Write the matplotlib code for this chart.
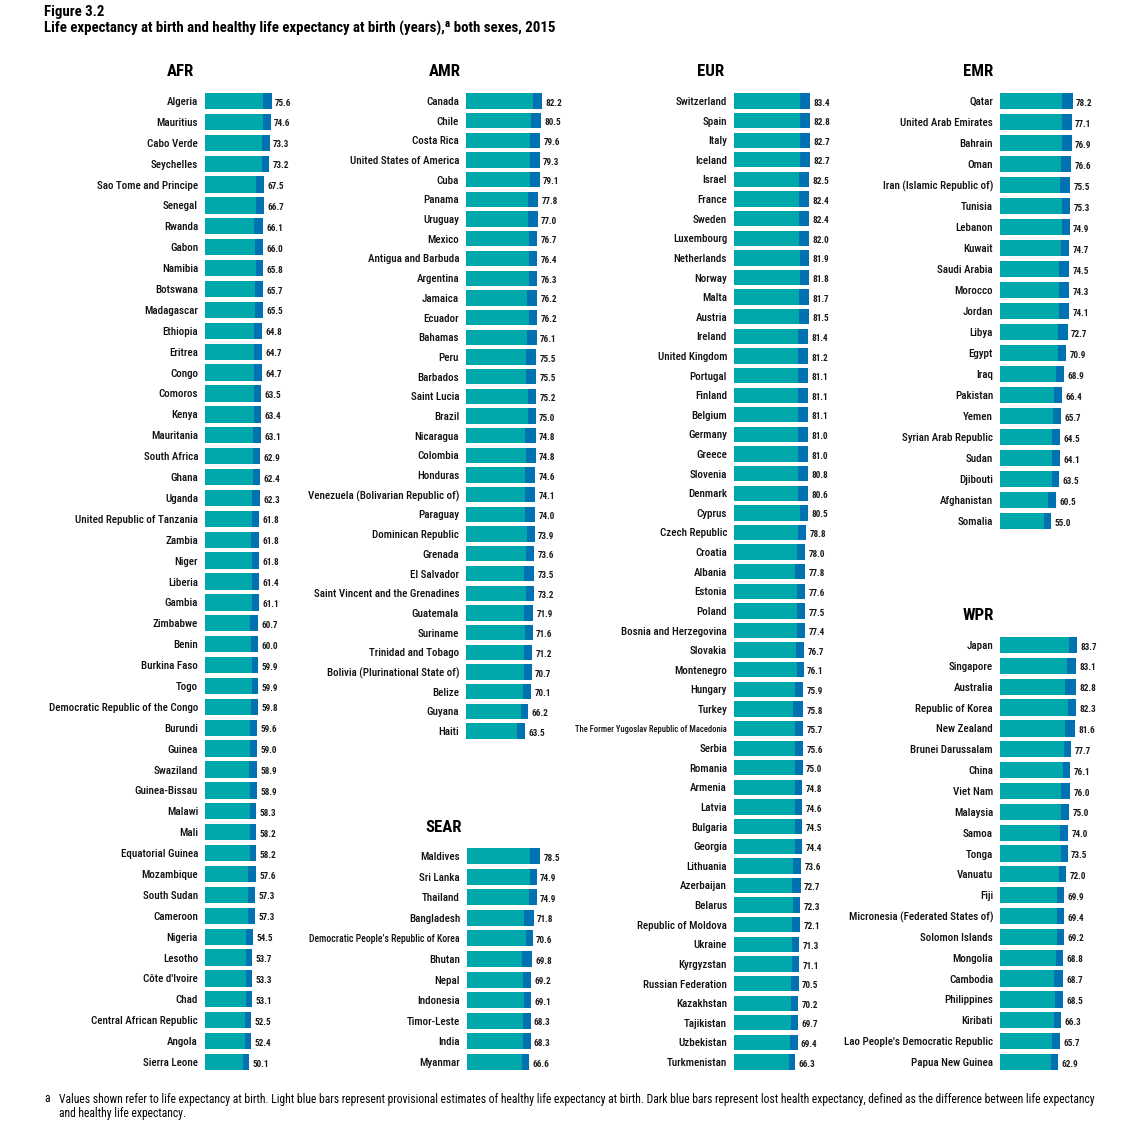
import matplotlib
matplotlib.use("Agg")
import matplotlib.pyplot as plt
from matplotlib import font_manager as fm

TEAL = "#00A8AB"
DARK = "#0072B2"

afr_countries = ["Algeria", "Mauritius", "Cabo Verde", "Seychelles", "Sao Tome and Principe", "Senegal",
                 "Rwanda", "Gabon", "Namibia", "Botswana", "Madagascar", "Ethiopia", "Eritrea", "Congo",
                 "Comoros", "Kenya", "Mauritania", "South Africa", "Ghana", "Uganda",
                 "United Republic of Tanzania", "Zambia", "Niger", "Liberia", "Gambia", "Zimbabwe", "Benin",
                 "Burkina Faso", "Togo", "Democratic Republic of the Congo", "Burundi", "Guinea", "Swaziland",
                 "Guinea-Bissau", "Malawi", "Mali", "Equatorial Guinea", "Mozambique", "South Sudan",
                 "Cameroon", "Nigeria", "Lesotho", "Côte d'Ivoire", "Chad", "Central African Republic",
                 "Angola", "Sierra Leone"]
afr_le = [75.6, 74.6, 73.3, 73.2, 67.5, 66.7, 66.1, 66.0, 65.8, 65.7, 65.5, 64.8, 64.7, 64.7, 63.5, 63.4,
          63.1, 62.9, 62.4, 62.3, 61.8, 61.8, 61.8, 61.4, 61.1, 60.7, 60.0, 59.9, 59.9, 59.8, 59.6, 59.0,
          58.9, 58.9, 58.3, 58.2, 58.2, 57.6, 57.3, 57.3, 54.5, 53.7, 53.3, 53.1, 52.5, 52.4, 50.1]
afr_hale = [66.2, 66.3, 64.6, 65.3, 58.4, 57.6, 55.8, 56.9, 57.9, 56.6, 56.4, 55.7, 55.6, 55.6, 55.6, 55.5,
            54.0, 55.0, 54.5, 53.2, 53.9, 52.7, 53.9, 53.5, 53.2, 51.6, 52.1, 53.1, 53.1, 51.9, 51.7, 51.1,
            49.8, 51.0, 51.5, 51.4, 51.4, 48.5, 49.4, 49.4, 46.6, 46.9, 46.5, 46.3, 45.7, 45.6, 43.3]

amr_countries = ["Canada", "Chile", "Costa Rica", "United States of America", "Cuba", "Panama", "Uruguay",
                 "Mexico", "Antigua and Barbuda", "Argentina", "Jamaica", "Ecuador", "Bahamas", "Peru",
                 "Barbados", "Saint Lucia", "Brazil", "Nicaragua", "Colombia", "Honduras",
                 "Venezuela (Bolivarian Republic of)", "Paraguay", "Dominican Republic", "Grenada",
                 "El Salvador", "Saint Vincent and the Grenadines", "Guatemala", "Suriname",
                 "Trinidad and Tobago", "Bolivia (Plurinational State of)", "Belize", "Guyana", "Haiti"]
amr_le = [82.2, 80.5, 79.6, 79.3, 79.1, 77.8, 77.0, 76.7, 76.4, 76.3, 76.2, 76.2, 76.1, 75.5, 75.5, 75.2,
          75.0, 74.8, 74.8, 74.6, 74.1, 74.0, 73.9, 73.6, 73.5, 73.2, 71.9, 71.6, 71.2, 70.7, 70.1, 66.2, 63.5]
amr_hale = [71.6, 69.7, 68.5, 68.5, 68.3, 67.0, 66.2, 68.1, 67.8, 67.7, 65.4, 67.6, 65.3, 64.7, 64.7, 66.6,
            66.4, 63.0, 64.0, 63.8, 63.3, 63.2, 65.3, 65.0, 62.7, 64.6, 62.2, 63.0, 62.6, 62.1, 61.5, 58.7, 54.9]

eur_countries = ["Switzerland", "Spain", "Italy", "Iceland", "Israel", "France", "Sweden", "Luxembourg",
                 "Netherlands", "Norway", "Malta", "Austria", "Ireland", "United Kingdom", "Portugal",
                 "Finland", "Belgium", "Germany", "Greece", "Slovenia", "Denmark", "Cyprus", "Czech Republic",
                 "Croatia", "Albania", "Estonia", "Poland", "Bosnia and Herzegovina", "Slovakia", "Montenegro",
                 "Hungary", "Turkey", "The Former Yugoslav Republic of Macedonia", "Serbia", "Romania",
                 "Armenia", "Latvia", "Bulgaria", "Georgia", "Lithuania", "Azerbaijan", "Belarus",
                 "Republic of Moldova", "Ukraine", "Kyrgyzstan", "Russian Federation", "Kazakhstan",
                 "Tajikistan", "Uzbekistan", "Turkmenistan"]
eur_le = [83.4, 82.8, 82.7, 82.7, 82.5, 82.4, 82.4, 82.0, 81.9, 81.8, 81.7, 81.5, 81.4, 81.2, 81.1, 81.1,
          81.1, 81.0, 81.0, 80.8, 80.6, 80.5, 78.8, 78.0, 77.8, 77.6, 77.5, 77.4, 76.7, 76.1, 75.9, 75.8,
          75.7, 75.6, 75.0, 74.8, 74.6, 74.5, 74.4, 73.6, 72.7, 72.3, 72.1, 71.3, 71.1, 70.5, 70.2, 69.7,
          69.4, 66.3]
eur_hale = [72.4, 71.8, 71.7, 71.7, 71.5, 71.4, 71.4, 71.0, 72.5, 72.3, 70.7, 70.5, 70.4, 70.2, 70.1, 70.1,
            70.1, 70.0, 70.0, 69.8, 69.6, 71.7, 70.0, 69.2, 66.8, 68.8, 68.7, 68.6, 67.9, 68.4, 67.1, 64.8,
            66.9, 66.8, 66.2, 67.1, 66.9, 66.8, 66.7, 64.8, 63.9, 64.6, 63.3, 63.6, 63.4, 62.8, 62.5, 62.0,
            61.7, 59.7]

emr_countries = ["Qatar", "United Arab Emirates", "Bahrain", "Oman", "Iran (Islamic Republic of)", "Tunisia",
                 "Lebanon", "Kuwait", "Saudi Arabia", "Morocco", "Jordan", "Libya", "Egypt", "Iraq",
                 "Pakistan", "Yemen", "Syrian Arab Republic", "Sudan", "Djibouti", "Afghanistan", "Somalia"]
emr_le = [78.2, 77.1, 76.9, 76.6, 75.5, 75.3, 74.9, 74.7, 74.5, 74.3, 74.1, 72.7, 70.9, 68.9, 66.4, 65.7,
          64.5, 64.1, 63.5, 60.5, 55.0]
emr_hale = [66.6, 66.4, 66.2, 65.9, 64.8, 66.7, 66.3, 66.1, 63.8, 63.6, 63.4, 62.0, 62.3, 60.3, 57.8, 57.1,
            55.9, 55.5, 56.0, 51.9, 47.5]

sear_countries = ["Maldives", "Sri Lanka", "Thailand", "Bangladesh", "Democratic People’s Republic of Korea",
                  "Bhutan", "Nepal", "Indonesia", "Timor-Leste", "India", "Myanmar"]
sear_le = [78.5, 74.9, 74.9, 71.8, 70.6, 69.8, 69.2, 69.1, 68.3, 68.3, 66.6]
sear_hale = [67.8, 67.4, 66.3, 61.1, 63.1, 59.1, 60.6, 61.6, 59.7, 59.7, 59.1]

wpr_countries = ["Japan", "Singapore", "Australia", "Republic of Korea", "New Zealand", "Brunei Darussalam",
                 "China", "Viet Nam", "Malaysia", "Samoa", "Tonga", "Vanuatu", "Fiji",
                 "Micronesia (Federated States of)", "Solomon Islands", "Mongolia", "Cambodia", "Philippines",
                 "Kiribati", "Lao People's Democratic Republic", "Papua New Guinea"]
wpr_le = [83.7, 83.1, 82.8, 82.3, 81.6, 77.7, 76.1, 76.0, 75.0, 74.0, 73.5, 72.0, 69.9, 69.4, 69.2, 68.8,
          68.7, 68.5, 66.3, 65.7, 62.9]
wpr_hale = [75.0, 72.5, 71.0, 73.4, 71.0, 70.1, 68.5, 65.8, 66.3, 65.3, 65.9, 64.4, 62.3, 61.8, 61.6, 61.2,
            58.5, 59.8, 58.7, 57.0, 55.3]

# pick a narrow / condensed face if one is installed
fam, stretch = "DejaVu Sans", "normal"
prefer = ["Liberation Sans Narrow", "Roboto Condensed", "Open Sans Condensed", "Noto Sans",
          "Open Sans", "Roboto", "DejaVu Sans", "Liberation Sans", "Lato", "Inter"]
found = {}
for f in fm.fontManager.ttflist:
    nm = f.name.lower()
    if "condensed" in str(f.stretch) or "narrow" in nm or "condensed" in nm:
        found.setdefault(f.name, f.stretch)
for p in prefer:
    if p in found:
        fam, stretch = p, found[p]
        break
else:
    if found:
        fam, stretch = sorted(found.items())[0]

W, H = 1139, 1146
fig = plt.figure(figsize=(W / 100, H / 100), dpi=100)
renderer = fig.canvas.get_renderer()


def fit_size(text, target_px, weight="normal", base=10):
    t = fig.text(0, 0, text, family=fam, fontstretch=stretch, fontweight=weight, fontsize=base)
    w = t.get_window_extent(renderer).width
    t.remove()
    return base * target_px / w


label_fs = fit_size("United Republic of Tanzania", 122, weight="medium")
value_fs = 6.6
title_fs = fit_size("AFR", 27, weight="bold")
head_fs = fit_size("Life expectancy at birth and healthy life expectancy at birth (years),a both sexes, 2015",
                   514, weight="bold")
note_text = ("Values shown refer to life expectancy at birth. Light blue bars represent provisional estimates of "
             "healthy life expectancy at birth. Dark blue bars represent lost health expectancy, defined as the "
             "difference between life expectancy")
note_fs = fit_size(note_text, 1036)


def panel(name, countries, le, hale, x0, y_first, y_last, scale, title_x, title_y):
    n = len(countries)
    step = (y_last - y_first) / (n - 1)
    top = y_first - step / 2
    bottom = y_last + step / 2
    width = 110
    ax = fig.add_axes([x0 / W, 1 - bottom / H, width / W, (bottom - top) / H])
    ys = list(range(n))
    lost = [a - b for a, b in zip(le, hale)]
    ax.barh(ys, hale, height=0.78, color=TEAL, linewidth=0)
    ax.barh(ys, lost, left=hale, height=0.78, color=DARK, linewidth=0)
    for i, v in enumerate(le):
        ax.annotate(f"{v:.1f}", xy=(v, i), xytext=(2.5, -1.5), textcoords="offset points",
                    ha="left", va="center", fontsize=value_fs, fontweight="bold", color="#1a1a1a",
                    family=fam, fontstretch=stretch)
    ax.set_xlim(0, width / scale)
    ax.set_ylim(n - 0.5, -0.5)
    ax.set_yticks(ys)
    ax.set_yticklabels(countries, fontsize=label_fs, color="#111111", family=fam, fontstretch=stretch,
                       fontweight="medium")
    # squeeze the longest names so they stay clear of the neighbouring panel
    for lab in ax.get_yticklabels():
        w = lab.get_window_extent(renderer).width
        if w > 152:
            lab.set_fontsize(label_fs * 152 / w)
    ax.tick_params(axis="y", length=0, pad=5)
    ax.set_xticks([])
    for s in ax.spines.values():
        s.set_visible(False)
    ax.patch.set_alpha(0)
    fig.text(title_x / W, 1 - title_y / H, name, ha="center", va="center",
             fontsize=title_fs, fontweight="bold", family=fam, fontstretch=stretch)


panel("AFR", afr_countries, afr_le, afr_hale, 205, 101, 1062, 0.88, 180, 72)
panel("AMR", amr_countries, amr_le, amr_hale, 466, 101, 731, 0.93, 445, 72)
panel("EUR", eur_countries, eur_le, eur_hale, 734, 101, 1062, 0.915, 711, 72)
panel("EMR", emr_countries, emr_le, emr_hale, 1000, 101, 521, 0.93, 978, 72)
panel("WPR", wpr_countries, wpr_le, wpr_hale, 1000, 645, 1062, 0.92, 978, 616)
panel("SEAR", sear_countries, sear_le, sear_hale, 467, 856, 1062, 0.93, 444, 828)

fig.text(44 / W, 1 - 12 / H, "Figure 3.2", ha="left", va="center", fontsize=head_fs, fontweight="bold",
         family=fam, fontstretch=stretch)
fig.text(44 / W, 1 - 28 / H,
         "Life expectancy at birth and healthy life expectancy at birth (years),ᵃ both sexes, 2015",
         ha="left", va="center", fontsize=head_fs, fontweight="bold", family=[fam, "DejaVu Sans"],
         fontstretch=stretch)

fig.text(44 / W, 1 - 1099 / H, "a", ha="left", va="center", fontsize=note_fs, family=fam, fontstretch=stretch)
fig.text(59 / W, 1 - 1099 / H, note_text, ha="left", va="center", fontsize=note_fs, family=fam,
         fontstretch=stretch)
fig.text(59 / W, 1 - 1113 / H, "and healthy life expectancy.", ha="left", va="center", fontsize=note_fs,
         family=fam, fontstretch=stretch)

fig.savefig("out.png", dpi=100)
